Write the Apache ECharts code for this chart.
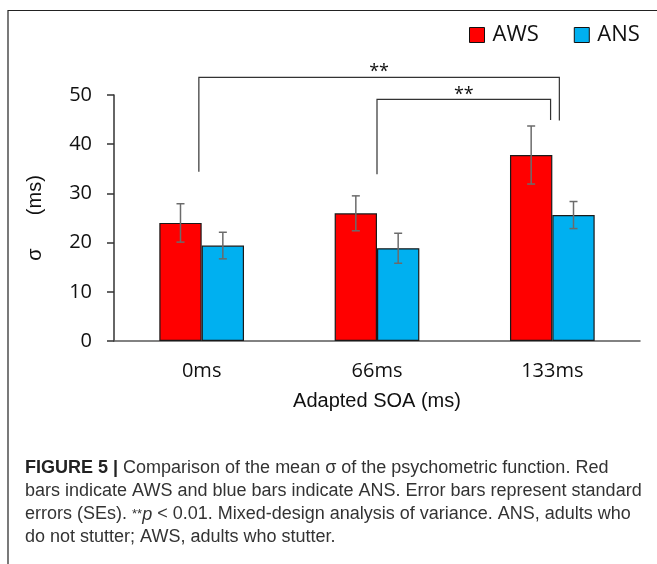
<!DOCTYPE html>
<html>
<head>
<meta charset="utf-8">
<script src="https://cdn.jsdelivr.net/npm/echarts@6/dist/echarts.min.js"></script>
<style>
html,body{margin:0;padding:0;background:#fff;}
#chart{width:657px;height:564px;}
</style>
</head>
<body>
<div id="chart"></div>
<script>
// ---- data ----
const categories = ['0ms', '66ms', '133ms'];
const seriesNames = ['AWS', 'ANS'];
const awsMean = [24.0, 25.95, 37.8];
const awsSE = [3.9, 3.55, 5.9];
const ansMean = [19.4, 18.85, 25.6];
const ansSE = [2.7, 3.05, 2.75];
const yTicks = [0, 10, 20, 30, 40, 50];
// significance brackets (category positions, y values)
const sigFrom = [-0.016, 1.0];
const sigTo = [2.04, 1.99];
const sigFromY = [34.4, 33.9];
const sigTopY = [53.6, 49.1];
const sigToY = [44.8, 44.9];
const sigLabel = ['**', '**'];

const CAT_GAP = 0.517;
const chart = echarts.init(document.getElementById('chart'), null, {renderer: 'canvas'});

function errRender(sideSign, means, errs) {
  return function (params, api) {
    const i = api.value(0);
    const band = api.size([1, 0])[0];
    const bw = band * (1 - CAT_GAP) / 2;
    const c = api.coord([i, means[i]]);
    const x = c[0] + sideSign * bw / 2;
    const top = api.coord([i, means[i] + errs[i]])[1];
    const bot = api.coord([i, means[i] - errs[i]])[1];
    const cap = 4;
    const st = {stroke: '#6b6b6b', lineWidth: 1.5};
    return {type: 'group', children: [
      {type: 'line', shape: {x1: x, y1: top, x2: x, y2: bot}, style: st},
      {type: 'line', shape: {x1: x - cap, y1: top, x2: x + cap, y2: top}, style: st},
      {type: 'line', shape: {x1: x - cap, y1: bot, x2: x + cap, y2: bot}, style: st}
    ]};
  };
}

function posX(api, v) {
  const idx = Math.round(v);
  const band = api.size([1, 0])[0];
  return api.coord([idx, 0])[0] + (v - idx) * band;
}

const sigData = sigFrom.map((v, k) => [k]);

const option = {
  backgroundColor: '#fff',
  animation: false,
  grid: {left: 114, right: 17, top: 95, bottom: 223, containLabel: false},
  legend: {
    data: seriesNames,
    left: 469, top: 24, padding: 0,
    itemWidth: 15, itemHeight: 15, itemGap: 35,
    icon: 'rect',
    itemStyle: {borderColor: '#111', borderWidth: 1},
    textStyle: {fontFamily: 'Open Sans', fontSize: 22, color: '#111', padding: [0, 0, 0, 3]}
  },
  xAxis: {
    type: 'category', data: categories,
    axisLine: {show: true, lineStyle: {color: '#595959', width: 1.5}},
    axisTick: {show: false},
    axisLabel: {fontFamily: 'Open Sans', fontSize: 20, color: '#111', margin: 20},
    name: 'Adapted SOA (ms)', nameLocation: 'middle', nameGap: 50,
    nameTextStyle: {fontFamily: 'Liberation Sans', fontSize: 20, color: '#111'}
  },
  yAxis: {
    type: 'value', min: yTicks[0], max: yTicks[yTicks.length - 1], interval: 10,
    axisLine: {show: true, lineStyle: {color: '#333', width: 1.5}},
    axisTick: {show: true, length: 7, lineStyle: {color: '#333', width: 1.5}},
    splitLine: {show: false},
    axisLabel: {fontFamily: 'Open Sans', fontSize: 20, color: '#111', margin: 22},
    name: 'σ      (ms)', nameLocation: 'middle', nameGap: 69,
    nameTextStyle: {fontFamily: 'Liberation Sans', fontSize: 20, color: '#111', padding: [0, 0, 0, 0]}
  },
  series: [
    {
      name: 'AWS', type: 'bar', data: awsMean,
      barGap: '0%', barCategoryGap: (CAT_GAP * 100) + '%',
      itemStyle: {color: '#ff0000', borderColor: '#1a1a1a', borderWidth: 1.2}
    },
    {
      name: 'ANS', type: 'bar', data: ansMean,
      barGap: '0%', barCategoryGap: (CAT_GAP * 100) + '%',
      itemStyle: {color: '#00b0f0', borderColor: '#1a1a1a', borderWidth: 1.2}
    },
    {
      type: 'custom', data: categories.map((c, i) => [i]), clip: false, z: 5,
      renderItem: errRender(-1, awsMean, awsSE)
    },
    {
      type: 'custom', data: categories.map((c, i) => [i]), clip: false, z: 5,
      renderItem: errRender(1, ansMean, ansSE)
    },
    {
      type: 'custom', data: sigData, clip: false, z: 6,
      renderItem: function (params, api) {
        const k = api.value(0);
        const x1 = posX(api, sigFrom[k]);
        const x2 = posX(api, sigTo[k]);
        const y1 = api.coord([0, sigFromY[k]])[1];
        const yt = api.coord([0, sigTopY[k]])[1];
        const y2 = api.coord([0, sigToY[k]])[1];
        return {type: 'group', children: [
          {type: 'polyline', shape: {points: [[x1, y1], [x1, yt], [x2, yt], [x2, y2]]},
           style: {stroke: '#333', lineWidth: 1.2, fill: null}},
          {type: 'text', x: (x1 + x2) / 2, y: yt - 5,
           style: {text: sigLabel[k], fill: '#111', font: '18px "Open Sans"', align: 'center', verticalAlign: 'middle'}}
        ]};
      }
    }
  ],
  graphic: [
    {type: 'polyline', shape: {points: [[8, 564], [8, 10.5], [657, 10.5]]},
     style: {stroke: '#222', lineWidth: 1.2, fill: null}, silent: true},
    {type: 'text', left: 25, top: 457,
     style: {
       text: '{b|FIGURE 5 |} Comparison of the mean σ of the psychometric function. Red\n' +
             'bars indicate AWS and blue bars indicate ANS. Error bars represent standard\n' +
             'errors (SEs). {s|**}{i|p} < 0.01. Mixed-design analysis of variance. ANS, adults who\n' +
             'do not stutter; AWS, adults who stutter.',
       font: '18px "Liberation Sans"', fill: '#333', lineHeight: 23,
       rich: {
         b: {fontWeight: 'bold', fontFamily: 'Liberation Sans', fontSize: 18, fill: '#222', lineHeight: 23},
         i: {fontStyle: 'italic', fontFamily: 'Liberation Sans', fontSize: 18, fill: '#333', lineHeight: 23},
         s: {fontFamily: 'Liberation Sans', fontSize: 13, fill: '#333', lineHeight: 23}
       }
     }}
  ]
};
chart.setOption(option);
</script>
</body>
</html>
